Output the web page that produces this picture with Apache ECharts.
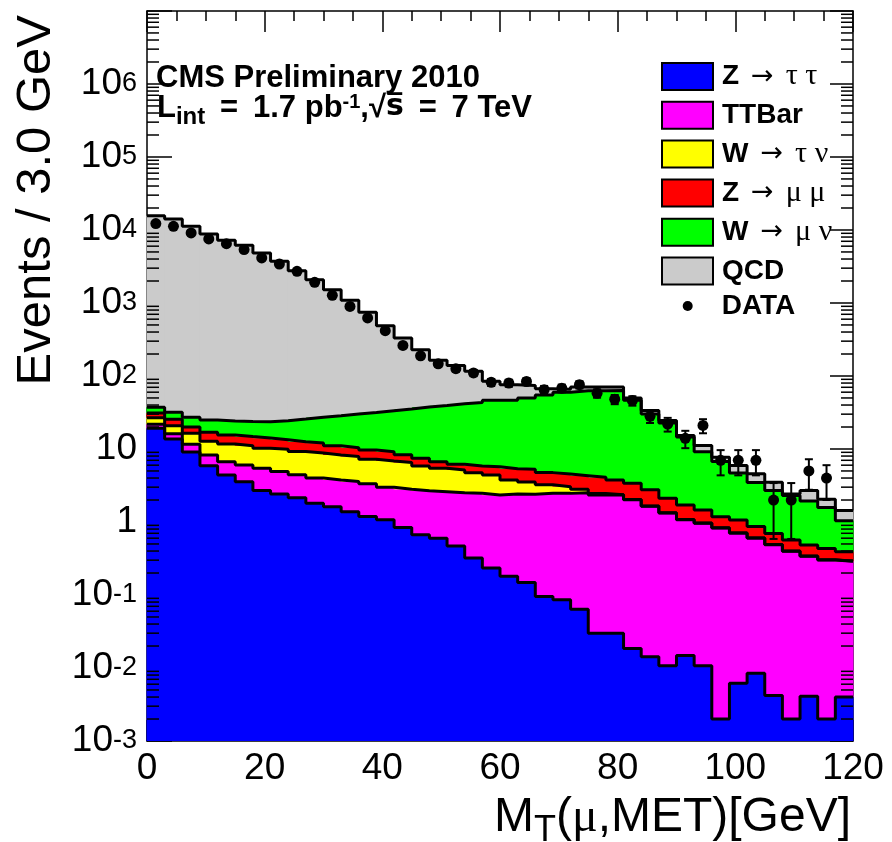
<!DOCTYPE html>
<html><head><meta charset="utf-8">
<script src="https://cdn.jsdelivr.net/npm/echarts@6/dist/echarts.min.js"></script>
<style>html,body{margin:0;padding:0;background:#fff}#c{width:892px;height:842px}</style>
</head><body><div id="c"></div>
<script>
// ---------------- data ----------------
const BIN_WIDTH = 3;
const binStart = [0,3,6,9,12,15,18,21,24,27,30,33,36,39,42,45,48,51,54,57,60,63,66,69,72,75,78,81,84,87,90,93,96,99,102,105,108,111,114,117];

const zTauTau = [19.2,13.7,9.1,5.9,4.4,3.55,2.7,2.42,2.15,1.8,1.62,1.38,1.19,1.07,0.84,0.67,0.6,0.47,0.32,0.235,0.18,0.148,0.095,0.086,0.064,0.03,0.03,0.0185,0.0143,0.0107,0.0148,0.0107,0.002,0.0062,0.0085,0.0042,0.002,0.0041,0.002,0.004];
const ttBar = [2.7,2.5,2.5,2.4,2.3,2.5,2.75,2.5,2.3,2.2,2.15,2.2,2.14,1.92,1.97,2.0,2.0,2.05,2.15,2.1,2.24,2.25,2.38,2.38,2.46,2.31,2.33,2.0,1.63,1.32,1.06,0.95,0.825,0.7,0.595,0.485,0.395,0.335,0.3,0.285];
const wTauNu = [4.9,4.6,4.8,4.5,5.0,5.0,4.8,5.0,4.8,4.8,4.5,4.3,3.9,3.85,3.7,3.2,2.85,2.65,2.27,2.08,1.35,1.13,0.75,0.58,0.29,0.12,0.01,0.01,0.01,0.01,0.005,0.005,0.005,0.002,0.002,0.002,0.002,0.002,0.002,0.002];
const zMuMu = [4.2,4.7,3.55,4.2,3.85,3.75,3.85,3.45,3.35,3.25,2.8,2.55,2.46,2.35,1.8,1.6,1.26,1.02,1.12,1.31,1.61,1.75,1.52,1.5,1.5,1.63,1.39,1.36,1.1,0.78,0.63,0.49,0.35,0.355,0.26,0.205,0.168,0.143,0.13,0.1];
const wMuNu = [6.4,6.4,7.3,8.0,8.7,9.0,9.6,11.0,13.1,15.1,17.5,19.7,22.0,24.3,27.0,30.1,32.8,35.6,37.6,40.8,41.1,44.7,50.3,55.2,58.5,58.9,59.7,43.1,27.4,20.6,12.9,7.73,5.56,3.61,2.61,2.0,1.73,1.46,1.15,0.65];
const qcd = [15683,14128,11183,8805,7186,6136,4816,3696,2744,2058,1491,1056,712,456,297,192,124.5,97,72.5,38.5,29.5,24,12,6.3,7.7,7.5,7,3.3,3.6,1.9,0.7,2.0,0.99,1.26,1.1,0.82,0.13,0.75,0.47,0.4];
const dataCounts = [12220,11210,9100,7530,6495,5385,4135,3421,2715,1919,1272,898,623,418,262,189,147,126,110,82,80,84,65,68,76,58,48,46,28,22,14,21,7,7,7,2,2,5,4,null];

const layerNames = ['Z → τ τ','TTBar','W → τ ν','Z → μ μ','W → μ ν','QCD'];
const dataName = 'DATA';
const yDecades = [-3,-2,-1,0,1,2,3,4,5,6];
const xTickValues = [0,20,40,60,80,100,120];

// ---------------- style ----------------
const layerColors = ['#0000ff','#ff00ff','#ffff00','#ff0000','#00ff00','#cbcbcb'];
const layerValues = [zTauTau, ttBar, wTauNu, zMuMu, wMuNu, qcd];
const YMIN = 1e-3, YMAX = 9.99e6, XMIN = 0, XMAX = 120;
const SANS = '"Liberation Sans", Arial, Helvetica, sans-serif';
const SERIF = '"Liberation Serif", "DejaVu Serif", "Times New Roman", serif';

const cum = [];
layerValues.forEach((vals, k) => {
  cum[k] = vals.map((v, i) => (k ? cum[k - 1][i] : 0) + v);
});

const series = [];
// filled bands
layerValues.forEach((vals, k) => {
  const color = layerColors[k];
  series.push({
    type: 'custom', name: layerNames[k], z: 2, silent: true,
    itemStyle: { color: color },
    data: binStart.map((x, i) => [x, x + BIN_WIDTH, k ? cum[k - 1][i] : YMIN, cum[k][i]]),
    encode: { x: [0, 1], y: [2, 3] },
    renderItem: function (params, api) {
      const a = api.coord([api.value(0), api.value(3)]);
      const b = api.coord([api.value(1), api.value(2)]);
      return { type: 'rect', shape: { x: a[0] - 0.5, y: a[1], width: b[0] - a[0] + 1, height: b[1] - a[1] }, style: { fill: color } };
    }
  });
});
// outlines (step lines)
layerValues.forEach((vals, k) => {
  const pts = binStart.map((x, i) => [x, cum[k][i]]);
  pts.push([binStart[binStart.length - 1] + BIN_WIDTH, cum[k][cum[k].length - 1]]);
  series.push({
    type: 'line', name: layerNames[k], step: 'end', data: pts, symbol: 'none', z: 3, silent: true,
    lineStyle: { color: '#000', width: 3 }, itemStyle: { color: layerColors[k] }, animation: false
  });
});
// y minor ticks (log style 2..9)
const minorRows = [];
yDecades.forEach(p => { for (let m = 2; m <= 9; m++) minorRows.push([XMIN, m * Math.pow(10, p)]); });
series.push({
  type: 'custom', name: '_minor', z: 4, silent: true, data: minorRows, encode: { x: 0, y: 1 },
  renderItem: function (params, api) {
    const l = api.coord([XMIN, api.value(1)]);
    const r = api.coord([XMAX, api.value(1)]);
    return { type: 'group', children: [
      { type: 'line', shape: { x1: l[0], y1: l[1], x2: l[0] + 12, y2: l[1] }, style: { stroke: '#000', lineWidth: 1.5 } },
      { type: 'line', shape: { x1: r[0] - 12, y1: r[1], x2: r[0], y2: r[1] }, style: { stroke: '#000', lineWidth: 1.5 } }
    ] };
  }
});
// data error bars
const errRows = [];
binStart.forEach((x, i) => {
  const n = dataCounts[i];
  if (n != null && n > 0) errRows.push([x + BIN_WIDTH / 2, n - Math.sqrt(n), n + Math.sqrt(n)]);
});
series.push({
  type: 'custom', name: dataName, z: 5, silent: true, itemStyle: { color: '#000' }, data: errRows, encode: { x: 0, y: [1, 2] },
  renderItem: function (params, api) {
    const t = api.coord([api.value(0), api.value(2)]);
    const b = api.coord([api.value(0), Math.max(api.value(1), YMIN)]);
    const c = 4;
    const st = { stroke: '#000', lineWidth: 2 };
    return { type: 'group', children: [
      { type: 'line', shape: { x1: t[0], y1: t[1], x2: b[0], y2: b[1] }, style: st },
      { type: 'line', shape: { x1: t[0] - c, y1: t[1], x2: t[0] + c, y2: t[1] }, style: st },
      { type: 'line', shape: { x1: b[0] - c, y1: b[1], x2: b[0] + c, y2: b[1] }, style: st }
    ] };
  }
});
// data points
const dataRows = [];
binStart.forEach((x, i) => { if (dataCounts[i] != null) dataRows.push([x + BIN_WIDTH / 2, dataCounts[i]]); });
series.push({ type: 'scatter', name: dataName, data: dataRows, symbol: 'circle', symbolSize: 11, z: 6, silent: true, itemStyle: { color: '#000', opacity: 1 } });

// ---------------- axes ----------------
const yLabelRich = {
  m: { fontFamily: SANS, fontSize: 37, lineHeight: 37, color: '#000', verticalAlign: 'bottom' },
  sup: { fontFamily: SANS, fontSize: 27, lineHeight: 26, color: '#000', padding: [4.5, 0, 18.5, 0], verticalAlign: 'top' }
};
function yFmt(v) {
  const l = Math.log10(v), p = Math.round(l);
  if (Math.abs(l - p) > 1e-3 || yDecades.indexOf(p) < 0) return '';
  if (p === 0) return '{m|1}';
  if (p === 1) return '{m|10}';
  return '{m|10}{sup|' + p + '}';
}
function xAxisCfg(pos, showLabel) {
  return {
    type: 'value', position: pos, min: XMIN, max: XMAX, interval: 20,
    axisLine: { show: true, onZero: false, lineStyle: { color: '#000', width: 1.5 } },
    axisTick: { show: true, inside: true, length: 21, lineStyle: { color: '#000', width: 1.5 } },
    minorTick: { show: true, splitNumber: 4, length: 10, lineStyle: { color: '#000', width: 1.5 } },
    splitLine: { show: false }, minorSplitLine: { show: false },
    axisLabel: { show: showLabel, margin: 9, fontFamily: SANS, fontSize: 37, color: '#000',
      formatter: v => (xTickValues.indexOf(v) >= 0 ? String(v) : '') }
  };
}
function yAxisCfg(pos, showLabel) {
  return {
    type: 'log', logBase: 10, position: pos, min: YMIN, max: YMAX, splitNumber: 10,
    axisLine: { show: true, onZero: false, lineStyle: { color: '#000', width: 1.5 } },
    axisTick: { show: true, inside: true, length: pos === 'left' ? 25 : 23, lineStyle: { color: '#000', width: 1.5 } },
    minorTick: { show: false }, splitLine: { show: false },
    axisLabel: { show: showLabel, margin: 10, formatter: yFmt, rich: yLabelRich, hideOverlap: false }
  };
}

const legendRich = {
  b: { fontFamily: SANS, fontWeight: 'bold', fontSize: 28, lineHeight: 27, color: '#000' },
  a: { fontFamily: '"DejaVu Sans", ' + SANS, fontSize: 27, lineHeight: 27, color: '#000' },
  s: { fontFamily: SERIF, fontSize: 30, lineHeight: 27, color: '#000' }
};
function legendFmt(name) {
  const parts = name.split(' ');
  if (parts.length === 1) return '{b|' + name + '}';
  // first word bold, arrow, greek symbols in serif
  return '{b|' + parts[0] + '}{s|\u2009\u2009}{a|' + parts[1] + '}{s|\u2009\u2009' + parts.slice(2).join(' ') + '}';
}

const option = {
  animation: false,
  backgroundColor: '#fff',
  grid: { left: 147, right: 39, top: 11, bottom: 101, containLabel: false, outerBoundsMode: 'none' },
  xAxis: [xAxisCfg('bottom', true), xAxisCfg('top', false)],
  yAxis: [yAxisCfg('left', true), yAxisCfg('right', false)],
  legend: [
    {
      orient: 'vertical', left: 656, top: 56.5, itemWidth: 51, itemHeight: 27, itemGap: 9.2,
      icon: 'rect', selectedMode: false,
      itemStyle: { borderColor: '#000', borderWidth: 2 },
      data: layerNames.map((n, k) => ({ name: n, icon: 'rect', itemStyle: { color: layerColors[k], borderColor: '#000', borderWidth: 2 } })),
      formatter: legendFmt,
      textStyle: { color: '#000', fontSize: 28, lineHeight: 27, padding: [0, 0, 0, 4], rich: legendRich }
    },
    {
      orient: 'vertical', left: 677.7, top: 287, itemWidth: 10, itemHeight: 27, selectedMode: false,
      data: [{ name: dataName, icon: 'circle', itemStyle: { color: '#000', borderWidth: 0 } }],
      formatter: legendFmt,
      textStyle: { color: '#000', fontSize: 28, lineHeight: 27, padding: [0, 0, 0, 24], rich: legendRich }
    }
  ],
  graphic: [
    { type: 'text', x: 156, y: 78.2, silent: true,
      style: { text: 'CMS Preliminary 2010', fontFamily: SANS, fontWeight: 'bold', fontSize: 31, fill: '#000', align: 'left', verticalAlign: 'middle' } },
    { type: 'text', x: 157, y: 92.7, silent: true,
      style: { text: '{b|L}{sub|int}{b| \u2009=\u2009 1.7 pb}{sup|-1}{b|,√}{ov|s\u0305}{b| \u2009=\u2009 7 TeV}', align: 'left', verticalAlign: 'top',
        rich: {
          b: { fontFamily: SANS, fontWeight: 'bold', fontSize: 31, lineHeight: 31, verticalAlign: 'top', fill: '#000' },
          sub: { fontFamily: SANS, fontWeight: 'bold', fontSize: 24, lineHeight: 24, padding: [13, 0, 0, 0], verticalAlign: 'top', fill: '#000' },
          sup: { fontFamily: SANS, fontWeight: 'bold', fontSize: 20, lineHeight: 20, verticalAlign: 'top', fill: '#000' },
          ov: { fontFamily: '"DejaVu Sans", ' + SANS, fontWeight: 'bold', fontSize: 30, lineHeight: 31, verticalAlign: 'top', fill: '#000' }
        } } },
    { type: 'text', x: 36, y: 15, rotation: Math.PI / 2, silent: true,
      style: { text: 'Events / 3.0 GeV', fontFamily: SANS, fontSize: 49, fill: '#000', align: 'right', verticalAlign: 'middle' } },
    { type: 'text', x: 851, y: 818, silent: true,
      style: { text: '{n|M}{sub|T}{n|(}{g|μ}{n|,MET)[GeV]}', align: 'right', verticalAlign: 'middle',
        rich: {
          n: { fontFamily: SANS, fontSize: 48, lineHeight: 48, verticalAlign: 'top', fill: '#000' },
          sub: { fontFamily: SANS, fontSize: 36, lineHeight: 36, padding: [19, 0, 0, 0], verticalAlign: 'top', fill: '#000' },
          g: { fontFamily: SERIF, fontSize: 48, lineHeight: 48, verticalAlign: 'top', fill: '#000' }
        } } }
  ],
  series: series
};

const chart = echarts.init(document.getElementById('c'), null, { renderer: 'canvas' });
chart.setOption(option);
</script>
</body></html>
